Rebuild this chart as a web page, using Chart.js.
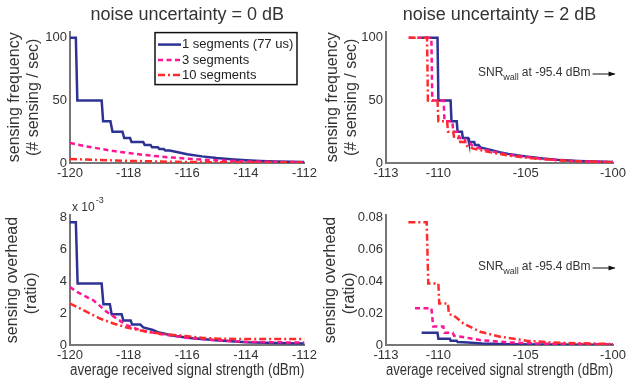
<!DOCTYPE html>
<html>
<head>
<meta charset="utf-8">
<script src="https://cdn.jsdelivr.net/npm/chart.js@4"></script>
<style>
  body { margin: 0; background: #fff; }
  #wrap { position: relative; width: 639px; height: 383px; }
  canvas { position: absolute; }
</style>
</head>
<body>
<div id="wrap">
  <canvas id="freq0" width="320" height="190" style="left:0;top:0"></canvas>
  <canvas id="freq2" width="319" height="190" style="left:320px;top:0"></canvas>
  <canvas id="ovh0" width="320" height="193" style="left:0;top:190px"></canvas>
  <canvas id="ovh2" width="319" height="193" style="left:320px;top:190px"></canvas>
</div>
<script>
// series names (legend)
const seriesNames = ['1 segments (77 us)', '3 segments', '10 segments'];

// noise uncertainty = 0 dB : sensing frequency (# sensing / sec)
const freq0Seg1X = [-120, -119.8, -119.75, -118.92, -118.87, -118.62, -118.55, -118.21, -118.15, -117.95, -117.9, -117.5, -117.45, -117.25, -117.2, -117.0, -116.95, -116.8, -116.75, -116.6, -116.4, -116.2, -116, -115.5, -115, -114.5, -114, -113.5, -113, -112.5, -112];
const freq0Seg1Y = [100, 100, 50, 50, 33.3, 33.3, 25, 25, 20, 20, 16.7, 16.7, 14.3, 14.3, 12.5, 12.5, 11.1, 11.1, 10, 10, 9, 8, 7, 5.3, 4, 3, 2.2, 1.6, 1.2, 0.9, 0.7];
const freq0Seg3X = [-120, -119.5, -119, -118.5, -118, -117.5, -117, -116.5, -116, -115.5, -115, -114.5, -114, -113, -112];
const freq0Seg3Y = [16, 13.5, 11.5, 9.5, 8, 6.5, 5.3, 4.3, 3.5, 2.7, 2.1, 1.7, 1.3, 0.9, 0.6];
const freq0Seg10X = [-120, -119, -118, -117, -116, -115, -114, -113, -112];
const freq0Seg10Y = [3.2, 2.4, 1.7, 1.2, 0.8, 0.6, 0.45, 0.35, 0.3];

// noise uncertainty = 2 dB : sensing frequency
const freq2Seg1X = [-111, -110.05, -110, -109.3, -109.25, -108.95, -108.9, -108.65, -108.6, -108.3, -108.25, -107.95, -107.9, -107.7, -107.6, -107.3, -107, -106.5, -106, -105.5, -105, -104, -103, -102, -101, -100];
const freq2Seg1Y = [100, 100, 50, 50, 33.3, 33.3, 25, 25, 20, 20, 16.7, 16.7, 14.3, 14.3, 12.5, 11.5, 10.5, 8.7, 7.3, 6.2, 5.3, 3.6, 2.3, 1.6, 1.1, 0.8];
const freq2Seg3X = [-111.7, -110.4, -110.35, -109.7, -109.65, -109.2, -109.15, -108.85, -108.8, -108.5, -108.45, -108.2, -108.1, -107.8, -107.5, -107, -106.5, -106, -105, -104, -103, -102, -101, -100];
const freq2Seg3Y = [100, 100, 50, 50, 33.3, 33.3, 25, 25, 20, 20, 16.7, 16.7, 14.3, 12.5, 11, 9.5, 8, 6.7, 4.8, 3.3, 2.1, 1.4, 1.0, 0.7];
const freq2Seg10X = [-111.7, -110.65, -110.6, -110.05, -110, -109.5, -109.45, -109.15, -109.1, -108.8, -108.75, -108.5, -108.45, -108.2, -108, -107.5, -107, -106.5, -106, -105, -104, -103, -102, -101, -100];
const freq2Seg10Y = [100, 100, 50, 50, 33.3, 33.3, 25, 25, 20, 20, 16.7, 16.7, 14.3, 12.5, 11.5, 10, 8.5, 7.2, 6, 4.3, 3, 2, 1.3, 0.9, 0.6];

// noise uncertainty = 0 dB : sensing overhead (ratio)
const ovh0Seg1X = [-120, -119.8, -119.74, -118.92, -118.86, -118.64, -118.58, -118.24, -118.18, -117.93, -117.88, -117.6, -117.5, -117.2, -117, -116.5, -116, -115, -114, -113, -112];
const ovh0Seg1Y = [0.0077, 0.0077, 0.00385, 0.00385, 0.00256, 0.00256, 0.00193, 0.00193, 0.00154, 0.00154, 0.00128, 0.00128, 0.0011, 0.00096, 0.0008, 0.0006, 0.00045, 0.0003, 0.00018, 0.00012, 0.0001];
const ovh0Seg3X = [-120, -119.77, -119.2, -118.75, -118.41, -118.07, -117.62, -116.94, -116.03, -115.12, -113.87, -112];
const ovh0Seg3Y = [0.00364, 0.00333, 0.0028, 0.00208, 0.00166, 0.00125, 0.00094, 0.00069, 0.00046, 0.00031, 0.00019, 0.00015];
const ovh0Seg10X = [-120, -119.43, -118.98, -118.52, -118.07, -117.39, -116.7, -116.03, -115.5, -115, -114, -112];
const ovh0Seg10Y = [0.0026, 0.00208, 0.00166, 0.00135, 0.0011, 0.00083, 0.00067, 0.00056, 0.00045, 0.0004, 0.00037, 0.00037];

// noise uncertainty = 2 dB : sensing overhead
const ovh2Seg1X = [-110.96, -110.05, -110, -109.34, -109.3, -108.95, -108.9, -108.3, -107.5, -106, -104, -100];
const ovh2Seg1Y = [0.0077, 0.0077, 0.00385, 0.00385, 0.0026, 0.0026, 0.0019, 0.0015, 0.001, 0.0005, 0.0003, 0.0001];
const ovh2Seg3X = [-111.34, -110.4, -110.3, -109.72, -109.65, -109.18, -109.1, -108.6, -107.62, -106.1, -104.5, -103.4, -100];
const ovh2Seg3Y = [0.0231, 0.0231, 0.0116, 0.0116, 0.0077, 0.0077, 0.0058, 0.005, 0.0031, 0.0017, 0.001, 0.0008, 0.0004];
const ovh2Seg10X = [-111.72, -110.67, -110.58, -110, -109.95, -109.45, -109.4, -109.14, -108.57, -107.62, -106.47, -104.95, -103.42, -100];
const ovh2Seg10Y = [0.077, 0.077, 0.0385, 0.0385, 0.026, 0.026, 0.0193, 0.0187, 0.0135, 0.0083, 0.0052, 0.0027, 0.0015, 0.0006];

// tick labels
const ticksX0 = [-120, -118, -116, -114, -112];
const ticksX2 = [-113, -110, -105, -100];
const ticksFreq = [0, 50, 100];
const ticksOvh0 = [0, 0.002, 0.004, 0.006, 0.008];
const ticksOvh2 = [0, 0.02, 0.04, 0.06, 0.08];

const FONT = "'Liberation Sans', Arial, Helvetica, sans-serif";
Chart.defaults.font.family = FONT;
Chart.defaults.color = '#333';

const lineStyles = [
    { color: '#2d3393', dash: [] },
    { color: '#ff1493', dash: [5, 3.5] },
    { color: '#ff2b2b', dash: [7, 3, 2, 3] }
];

function pts(xs, ys) {
    return xs.map((x, i) => ({ x: x, y: ys[i] }));
}

function drawLegend(ctx, a) {
    const left = a.left + 85, top = a.top + 1;
    ctx.fillStyle = '#fff';
    ctx.fillRect(left, top, 142, 52);
    ctx.strokeStyle = '#111';
    ctx.lineWidth = 1.5;
    ctx.setLineDash([]);
    ctx.strokeRect(left, top, 142, 52);
    ctx.font = '13px ' + FONT;
    ctx.textBaseline = 'middle';
    ctx.textAlign = 'left';
    const rows = [12, 27.5, 42.5];
    seriesNames.forEach((name, i) => {
        const y = top + rows[i];
        ctx.strokeStyle = lineStyles[i].color;
        ctx.lineWidth = 2.5;
        ctx.setLineDash(lineStyles[i].dash);
        ctx.beginPath();
        ctx.moveTo(left + 3, y);
        ctx.lineTo(left + 26, y);
        ctx.stroke();
        ctx.fillStyle = '#222';
        ctx.fillText(name, left + 27, y);
    });
    ctx.setLineDash([]);
}

function drawSnr(ctx, x, y) {
    ctx.fillStyle = '#333';
    ctx.textBaseline = 'middle';
    ctx.textAlign = 'left';
    ctx.font = '12px ' + FONT;
    ctx.fillText('SNR', x, y);
    let w = ctx.measureText('SNR').width;
    ctx.font = '9px ' + FONT;
    ctx.fillText('wall', x + w, y + 5);
    w += ctx.measureText('wall').width + 3;
    ctx.font = '12px ' + FONT;
    ctx.fillText('at -95.4 dBm', x + w, y);
    w += ctx.measureText('at -95.4 dBm').width + 2;
    const x0 = x + w, x1 = x0 + 22;
    ctx.strokeStyle = '#111';
    ctx.lineWidth = 1;
    ctx.setLineDash([]);
    ctx.beginPath();
    ctx.moveTo(x0, y + 1);
    ctx.lineTo(x1, y + 1);
    ctx.stroke();
    ctx.fillStyle = '#111';
    ctx.beginPath();
    ctx.moveTo(x1 + 1, y + 1);
    ctx.lineTo(x1 - 6, y - 1.5);
    ctx.lineTo(x1 - 6, y + 3.5);
    ctx.closePath();
    ctx.fill();
}

function drawExponent(ctx, x, y) {
    ctx.fillStyle = '#333';
    ctx.textBaseline = 'middle';
    ctx.textAlign = 'left';
    ctx.font = '12px ' + FONT;
    ctx.fillText('x 10', x, y);
    const w = ctx.measureText('x 10').width;
    ctx.font = '9px ' + FONT;
    ctx.fillText('-3', x + w + 1, y - 7);
}

const decor = {
    id: 'decor',
    afterDraw(chart, args, opts) {
        const ctx = chart.ctx, a = chart.chartArea;
        ctx.save();
        if (opts.legend) drawLegend(ctx, a);
        if (opts.snrY) drawSnr(ctx, a.left + 92, opts.snrY);
        if (opts.exponent) drawExponent(ctx, a.left + 2, a.top - 7);
        ctx.restore();
    }
};

function makeChart(id, c) {
    const ctx = document.getElementById(id).getContext('2d');
    const datasets = c.series.map((s, i) => ({
        label: seriesNames[i],
        data: pts(s[0], s[1]),
        borderColor: lineStyles[i].color,
        borderDash: lineStyles[i].dash,
        borderWidth: 2.5,
        pointRadius: 0,
        tension: 0,
        fill: false,
        order: 3 - i
    }));
    return new Chart(ctx, {
        type: 'line',
        data: { datasets: datasets },
        plugins: [decor],
        options: {
            responsive: false,
            animation: false,
            events: [],
            layout: { padding: { left: 0, right: c.padRight, top: c.padTop || 0, bottom: 0 } },
            plugins: {
                legend: { display: false },
                tooltip: { enabled: false },
                title: {
                    display: !!c.title,
                    text: c.title,
                    fullSize: false,
                    color: '#333',
                    font: { size: 18, weight: 'normal' },
                    padding: { top: 4, bottom: 6 }
                },
                decor: c.decor || {}
            },
            scales: {
                x: {
                    type: 'linear',
                    min: c.xMin,
                    max: c.xMax,
                    afterBuildTicks: s => { s.ticks = c.xTicks.map(v => ({ value: v })); },
                    afterFit: s => { s.height = c.xHeight; },
                    grid: { display: false, drawTicks: false },
                    border: { display: true, color: '#777', width: 2 },
                    ticks: { padding: 3, font: { size: 13 }, color: '#333', maxRotation: 0 },
                    title: {
                        display: !!c.xTitle,
                        text: c.xTitle,
                        color: '#333',
                        font: { size: 16 },
                        padding: { top: 0, bottom: 3 }
                    }
                },
                y: {
                    type: 'linear',
                    min: 0,
                    max: c.yMax,
                    afterBuildTicks: s => { s.ticks = c.yTicks.map(v => ({ value: v })); },
                    afterFit: s => { s.width = c.yWidth; },
                    grid: { display: false, drawTicks: false },
                    border: { display: true, color: '#777', width: 2 },
                    ticks: { padding: 3, font: { size: 13 }, color: '#333', callback: c.yFmt },
                    title: {
                        display: true,
                        text: c.yTitle,
                        color: '#333',
                        font: { size: 16 },
                        padding: { top: c.yTitlePad, bottom: 0 }
                    }
                }
            }
        }
    });
}

const xTitle = 'average received signal strength (dBm)';
const freqTitle = ['sensing frequency', '(# sensing / sec)'];
// trailing spaces push "(ratio)" a little lower, as in the original figure
const ovhTitle = ['sensing overhead', '(ratio)      '];

makeChart('freq0', {
    series: [[freq0Seg1X, freq0Seg1Y], [freq0Seg3X, freq0Seg3Y], [freq0Seg10X, freq0Seg10Y]],
    xMin: -120, xMax: -112, xTicks: ticksX0,
    yMax: 105, yTicks: ticksFreq,
    title: 'noise uncertainty = 0 dB',
    yTitle: freqTitle, yTitlePad: 5,
    yWidth: 70, padRight: 15, xHeight: 27,
    decor: { legend: true }
});

makeChart('freq2', {
    series: [[freq2Seg1X, freq2Seg1Y], [freq2Seg3X, freq2Seg3Y], [freq2Seg10X, freq2Seg10Y]],
    xMin: -113, xMax: -100, xTicks: ticksX2,
    yMax: 105, yTicks: ticksFreq,
    title: 'noise uncertainty = 2 dB',
    yTitle: freqTitle, yTitlePad: 3,
    yWidth: 66, padRight: 26, xHeight: 27,
    decor: { snrY: 73 }
});

makeChart('ovh0', {
    series: [[ovh0Seg1X, ovh0Seg1Y], [ovh0Seg3X, ovh0Seg3Y], [ovh0Seg10X, ovh0Seg10Y]],
    xMin: -120, xMax: -112, xTicks: ticksX0,
    yMax: 0.00815, yTicks: ticksOvh0,
    yFmt: v => String(Math.round(v * 1000)),
    yTitle: ovhTitle, yTitlePad: 3,
    xTitle: xTitle,
    yWidth: 70, padRight: 15, padTop: 25, xHeight: 38,
    decor: { exponent: true }
});

makeChart('ovh2', {
    series: [[ovh2Seg1X, ovh2Seg1Y], [ovh2Seg3X, ovh2Seg3Y], [ovh2Seg10X, ovh2Seg10Y]],
    xMin: -113, xMax: -100, xTicks: ticksX2,
    yMax: 0.0815, yTicks: ticksOvh2,
    yTitle: ovhTitle, yTitlePad: 1,
    xTitle: xTitle,
    yWidth: 66, padRight: 26, padTop: 25, xHeight: 38,
    decor: { snrY: 77 }
});
</script>
</body>
</html>
